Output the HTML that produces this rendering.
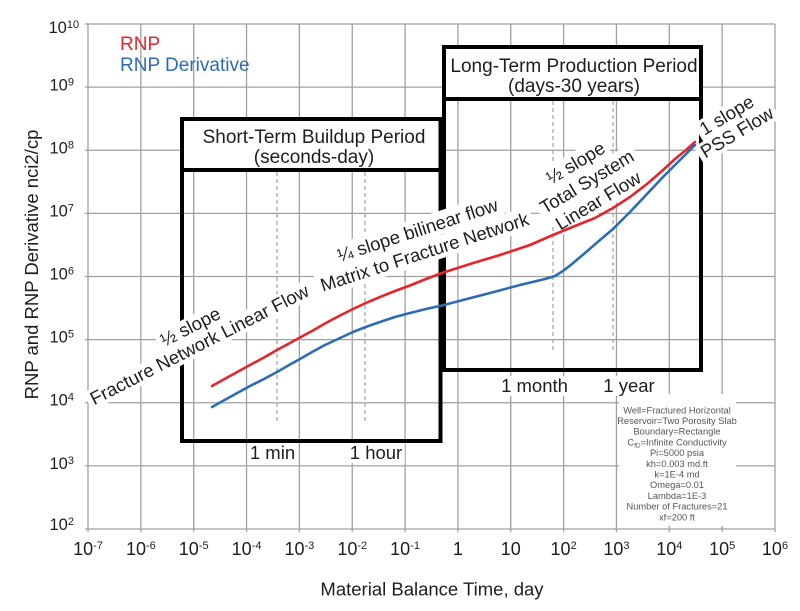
<!DOCTYPE html>
<html>
<head>
<meta charset="utf-8">
<style>
html,body{margin:0;padding:0;background:#fff;}
#c{position:relative;width:800px;height:611px;overflow:hidden;background:#fff;font-family:"Liberation Sans",Arial,sans-serif;color:#1e1e1e;}
svg{position:absolute;left:0;top:0;}
.l{position:absolute;transform:translate(-50%,-50%);white-space:nowrap;background:#fff;font-size:18.5px;line-height:20px;padding:0 3px;color:#1e1e1e;}
.g{position:absolute;white-space:nowrap;font-size:18.5px;text-align:center;color:#1e1e1e;}
.g div{line-height:inherit;}
.g span{display:inline-block;background:#fff;padding:0 4px;}
</style>
</head>
<body>
<div id="c">
<svg width="800" height="611" viewBox="0 0 800 611" font-family="Liberation Sans, Arial, sans-serif">
  <g stroke="#a0a0a0" stroke-width="1.3" fill="none">
    <line x1="88" y1="24" x2="88" y2="532"/>
    <line x1="140.85" y1="24" x2="140.85" y2="532"/>
    <line x1="193.69" y1="24" x2="193.69" y2="532"/>
    <line x1="246.54" y1="24" x2="246.54" y2="532"/>
    <line x1="299.38" y1="24" x2="299.38" y2="532"/>
    <line x1="352.23" y1="24" x2="352.23" y2="532"/>
    <line x1="405.08" y1="24" x2="405.08" y2="532"/>
    <line x1="457.92" y1="24" x2="457.92" y2="532"/>
    <line x1="510.77" y1="24" x2="510.77" y2="532"/>
    <line x1="563.62" y1="24" x2="563.62" y2="532"/>
    <line x1="616.46" y1="24" x2="616.46" y2="532"/>
    <line x1="669.31" y1="24" x2="669.31" y2="532"/>
    <line x1="722.15" y1="24" x2="722.15" y2="532"/>
    <line x1="775" y1="24" x2="775" y2="532"/>
    <line x1="85" y1="24" x2="775" y2="24"/>
    <line x1="85" y1="87.13" x2="775" y2="87.13"/>
    <line x1="85" y1="150.25" x2="775" y2="150.25"/>
    <line x1="85" y1="213.38" x2="775" y2="213.38"/>
    <line x1="85" y1="276.5" x2="775" y2="276.5"/>
    <line x1="85" y1="339.63" x2="775" y2="339.63"/>
    <line x1="85" y1="402.75" x2="775" y2="402.75"/>
    <line x1="85" y1="465.88" x2="775" y2="465.88"/>
    <line x1="85" y1="529" x2="775" y2="529"/>
  </g>
  <g stroke="#a8a8a8" stroke-width="1.3" stroke-dasharray="4,3" fill="none">
    <line x1="277" y1="172" x2="277" y2="421"/>
    <line x1="365" y1="172" x2="365" y2="421"/>
    <line x1="553" y1="101" x2="553" y2="352"/>
    <line x1="613" y1="101" x2="613" y2="352"/>
  </g>
  <rect x="182" y="119" width="258.5" height="51" fill="#fff"/>
  <rect x="444" y="47" width="257" height="52" fill="#fff"/>
  <g stroke="#000" stroke-width="4" fill="none">
    <rect x="182" y="119" width="258.5" height="322"/>
    <line x1="182" y1="170" x2="440.5" y2="170"/>
    <rect x="444" y="47" width="257" height="323"/>
    <line x1="444" y1="99" x2="701" y2="99"/>
  </g>
  <g font-size="19" fill="#1e1e1e" text-anchor="middle">
    <text x="314" y="143">Short-Term Buildup Period</text>
    <text x="314" y="163">(seconds-day)</text>
    <text x="574" y="72">Long-Term Production Period</text>
    <text x="574" y="92">(days-30 years)</text>
  </g>
  <rect x="619" y="394" width="117" height="132" fill="#fff"/>
  <g font-size="9.3" fill="#555" text-anchor="middle">
    <text x="677" y="413.3">Well=Fractured Horizontal</text>
    <text x="677" y="424">Reservoir=Two Porosity Slab</text>
    <text x="677" y="434.7">Boundary=Rectangle</text>
    <text x="677" y="445.4">C<tspan font-size="6.5" dy="2">fD</tspan><tspan dy="-2">=Infinite Conductivity</tspan></text>
    <text x="677" y="456.1">Pi=5000 psia</text>
    <text x="677" y="466.8">kh=0.003 md.ft</text>
    <text x="677" y="477.5">k=1E-4 md</text>
    <text x="677" y="488.2">Omega=0.01</text>
    <text x="677" y="498.9">Lambda=1E-3</text>
    <text x="677" y="509.6">Number of Fractures=21</text>
    <text x="677" y="520.3">xf=200 ft</text>
  </g>
  <g font-size="16.5" fill="#1e1e1e">
    <text x="48.5" y="33">10<tspan font-size="11" dy="-5">10</tspan></text>
    <text x="49.5" y="90.5">10<tspan font-size="11" dy="-5">9</tspan></text>
    <text x="49.5" y="153.5">10<tspan font-size="11" dy="-5">8</tspan></text>
    <text x="49.5" y="216.5">10<tspan font-size="11" dy="-5">7</tspan></text>
    <text x="49.5" y="279.5">10<tspan font-size="11" dy="-5">6</tspan></text>
    <text x="49.5" y="342.5">10<tspan font-size="11" dy="-5">5</tspan></text>
    <text x="49.5" y="405.5">10<tspan font-size="11" dy="-5">4</tspan></text>
    <text x="49.5" y="469">10<tspan font-size="11" dy="-5">3</tspan></text>
    <text x="49.5" y="530">10<tspan font-size="11" dy="-5">2</tspan></text>
  </g>
  <g font-size="18" fill="#1e1e1e" text-anchor="middle">
    <text x="88" y="555">10<tspan font-size="11" dy="-6">-7</tspan></text>
    <text x="140.85" y="555">10<tspan font-size="11" dy="-6">-6</tspan></text>
    <text x="193.69" y="555">10<tspan font-size="11" dy="-6">-5</tspan></text>
    <text x="246.54" y="555">10<tspan font-size="11" dy="-6">-4</tspan></text>
    <text x="299.38" y="555">10<tspan font-size="11" dy="-6">-3</tspan></text>
    <text x="352.23" y="555">10<tspan font-size="11" dy="-6">-2</tspan></text>
    <text x="405.08" y="555">10<tspan font-size="11" dy="-6">-1</tspan></text>
    <text x="457.92" y="555">1</text>
    <text x="510.77" y="555">10</text>
    <text x="563.62" y="555">10<tspan font-size="11" dy="-6">2</tspan></text>
    <text x="616.46" y="555">10<tspan font-size="11" dy="-6">3</tspan></text>
    <text x="669.31" y="555">10<tspan font-size="11" dy="-6">4</tspan></text>
    <text x="722.15" y="555">10<tspan font-size="11" dy="-6">5</tspan></text>
    <text x="775" y="555">10<tspan font-size="11" dy="-6">6</tspan></text>
  </g>
  <text x="432" y="595.5" font-size="18.5" fill="#1e1e1e" text-anchor="middle">Material Balance Time, day</text>
  <text transform="translate(38,264.5) rotate(-90)" font-size="18.5" fill="#1e1e1e" text-anchor="middle">RNP and RNP Derivative nci2/cp</text>
  <text x="120" y="50" font-size="19" fill="#e4252b">RNP</text>
  <text x="120" y="71" font-size="19" fill="#2b6cb5">RNP Derivative</text>
</svg>

<div class="l" style="left:272.5px;top:453px;">1 min</div>
<div class="l" style="left:376px;top:453px;">1 hour</div>
<div class="l" style="left:534.5px;top:386px;">1 month</div>
<div class="l" style="left:629px;top:386px;">1 year</div>

<div class="g" style="left:195px;top:336px;line-height:20px;transform:translate(-50%,-50%) rotate(-27deg);">
  <div><span>½ slope</span></div>
  <div><span>Fracture Network Linear Flow</span></div>
</div>
<div class="g" style="left:421px;top:241px;line-height:23px;transform:translate(-50%,-50%) rotate(-18deg);">
  <div><span>¼ slope bilinear flow</span></div>
  <div><span>Matrix to Fracture Network</span></div>
</div>
<div class="g" style="left:587px;top:182px;line-height:22px;transform:translate(-50%,-50%) rotate(-31deg);">
  <div><span>½ slope</span></div>
  <div><span>Total System</span></div>
  <div><span>Linear Flow</span></div>
</div>
<div class="g" style="left:732px;top:124px;line-height:20px;transform:translate(-50%,-50%) rotate(-31deg);">
  <div><span>1 slope</span></div>
  <div><span>PSS Flow</span></div>
</div>

<svg width="800" height="611" viewBox="0 0 800 611" style="pointer-events:none;">
  <polyline fill="none" stroke="#e4252b" stroke-width="2.6" stroke-linejoin="round" stroke-linecap="round"
    points="212,386 230,376 250,365 264,357.5 277,350 290,343 300,337.5 313,330.5 325,323.5 340,315.5 353,309 367,302.5 380,297 395,291 410,285.5 426,279 442,273 470,264 500,255 530,245 553,235 575,226 595,218 613,208 630,197 647,184 662,171 675,159 686,150 695,142"/>
  <polyline fill="none" stroke="#2b6cb5" stroke-width="2.6" stroke-linejoin="round" stroke-linecap="round"
    points="212,407 230,397 250,386 264,379 277,372 290,364.5 300,359 313,351.5 325,345 340,338 353,332 367,326.5 380,322 395,317 410,313 426,309 442,305.5 463,300 490,293 520,285 545,279 555,276 563,271 572,264 585,253 600,240 613,229 630,212 647,194 663,177 680,160 695,145"/>
</svg>
</div>
</body>
</html>
